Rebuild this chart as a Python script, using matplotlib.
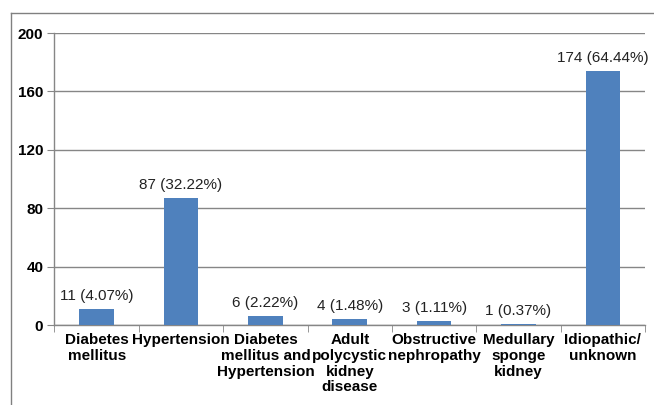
import matplotlib
matplotlib.use("Agg")
from matplotlib import pyplot as plt
from matplotlib.lines import Line2D
import numpy as np

categories = ["Diabetes\nmellitus", "Hypertension", "Diabetes\nmellitus and\nHypertension",
              "Adult\npolycystic\nkidney\ndisease", "Obstructive\nnephropathy",
              "Medullary\nsponge\nkidney", "Idiopathic/\nunknown"]
counts = [11, 87, 6, 4, 3, 1, 174]
percents = ["4.07", "32.22", "2.22", "1.48", "1.11", "0.37", "64.44"]
yticks = [0, 40, 80, 120, 160, 200]

plt.rcParams['font.family'] = ['Liberation Sans', 'DejaVu Sans']

fig = plt.figure(figsize=(6.54, 4.05), dpi=100)
ax = fig.add_axes([0.0833, 0.1975, 0.903, 0.721])

x = np.arange(len(counts))
ax.bar(x, counts, width=0.41, color='#4F81BD', zorder=3)

for xi, c, p in zip(x, counts, percents):
    ax.text(xi, c + 4, f"{c} ({p}%)", ha='center', va='bottom', fontsize=11, color='#222222')

ax.set_xlim(-0.5, len(counts) - 0.5)
ax.set_ylim(0, 200)
ax.set_yticks(yticks)
ax.set_yticklabels([str(t) for t in yticks], fontsize=11, fontweight='bold')
ax.set_xticks(x)
ax.set_xticklabels(categories, fontsize=11, fontweight='bold', linespacing=1.15)
ax.set_xticks(np.arange(-0.5, len(counts)), minor=True)
ax.tick_params(axis='x', which='major', length=0, pad=6)
ax.tick_params(axis='x', which='minor', length=5, color='#868686')
ax.tick_params(axis='y', length=5, color='#868686', pad=3)

ax.grid(axis='y', color='#868686', lw=1, zorder=0)
for s in ['top', 'right']:
    ax.spines[s].set_visible(False)
for s in ['left', 'bottom']:
    ax.spines[s].set_color('#868686')
    ax.spines[s].set_linewidth(1)

# outer chart frame
fig.add_artist(Line2D([11 / 654, 11 / 654], [0, 1 - 13 / 405], color='#808080', lw=1))
fig.add_artist(Line2D([11 / 654, 1], [1 - 13 / 405, 1 - 13 / 405], color='#808080', lw=1))

fig.savefig("out.png", dpi=100)
